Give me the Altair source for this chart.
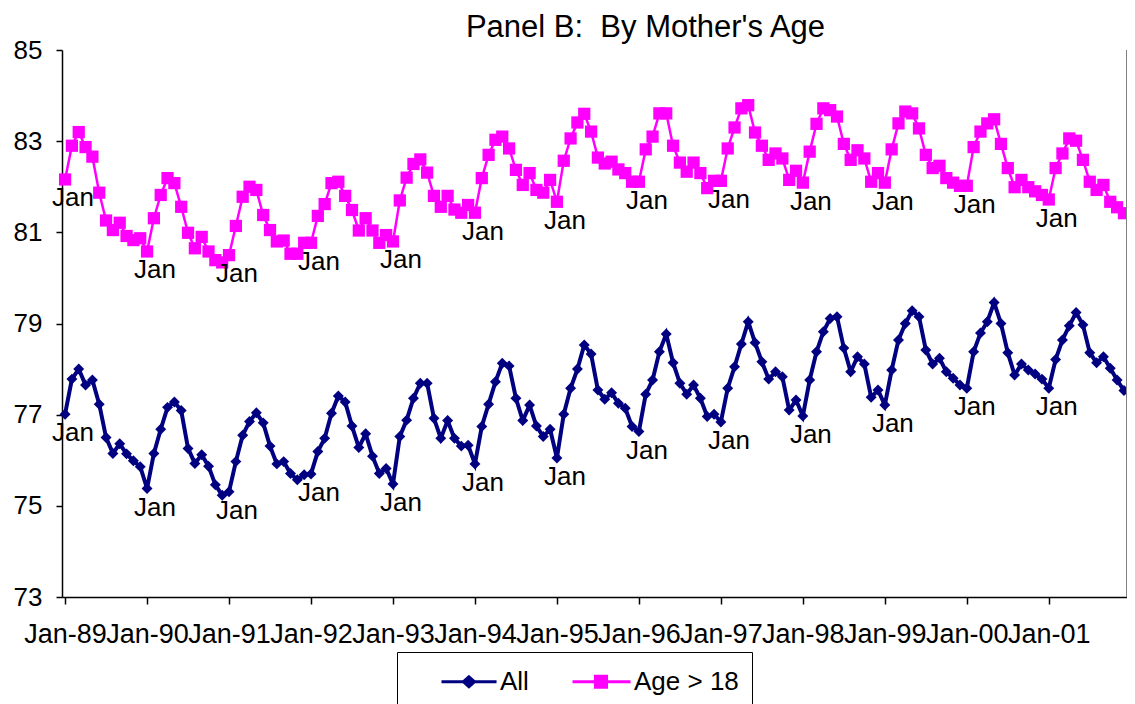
import altair as alt
import pandas as pd

# ---- data (monthly, Jan-89 .. Dec-01) ----
all_values = [
    77.01, 77.78, 78.00, 77.65, 77.76, 77.23, 76.50, 76.15, 76.36, 76.14, 75.99, 75.86,
    75.38, 76.15, 76.68, 77.16, 77.28, 77.09, 76.26, 75.93, 76.12, 75.87, 75.46, 75.23,
    75.31, 75.97, 76.55, 76.85, 77.04, 76.82, 76.31, 75.92, 75.97, 75.71, 75.57, 75.68,
    75.70, 76.19, 76.48, 77.03, 77.41, 77.28, 76.75, 76.28, 76.58, 76.09, 75.71, 75.82,
    75.48, 76.52, 76.88, 77.36, 77.69, 77.69, 76.92, 76.48, 76.87, 76.48, 76.31, 76.33,
    75.92, 76.74, 77.23, 77.72, 78.13, 78.07, 77.36, 76.87, 77.21, 76.75, 76.52, 76.68,
    76.05, 77.01, 77.58, 78.00, 78.53, 78.33, 77.54, 77.34, 77.48, 77.25, 77.14, 76.74,
    76.63, 77.45, 77.76, 78.38, 78.77, 78.14, 77.69, 77.45, 77.65, 77.36, 76.96, 77.01,
    76.84, 77.58, 78.05, 78.55, 79.04, 78.58, 78.16, 77.78, 77.94, 77.83, 77.10, 77.32,
    76.97, 77.76, 78.38, 78.82, 79.11, 79.15, 78.46, 77.94, 78.27, 78.11, 77.38, 77.54,
    77.21, 77.98, 78.64, 79.00, 79.28, 79.15, 78.42, 78.11, 78.24, 77.94, 77.80, 77.65,
    77.58, 78.38, 78.79, 79.04, 79.46, 79.00, 78.36, 77.87, 78.11, 77.98, 77.89, 77.78,
    77.58, 78.21, 78.64, 78.95, 79.24, 78.97, 78.36, 78.14, 78.27, 78.02, 77.76, 77.53,
]
age_values = [
    82.16, 82.90, 83.20, 82.87, 82.66, 81.87, 81.26, 81.05, 81.21, 80.92, 80.83, 80.87,
    80.58, 81.31, 81.82, 82.19, 82.08, 81.56, 80.99, 80.65, 80.90, 80.58, 80.39, 80.34,
    80.50, 81.14, 81.78, 82.00, 81.93, 81.38, 81.05, 80.80, 80.82, 80.53, 80.53, 80.77,
    80.77, 81.36, 81.62, 82.08, 82.11, 81.80, 81.49, 81.04, 81.31, 81.04, 80.77, 80.94,
    80.80, 81.70, 82.20, 82.50, 82.60, 82.31, 81.80, 81.56, 81.80, 81.50, 81.43, 81.60,
    81.43, 82.19, 82.70, 83.03, 83.10, 82.84, 82.37, 82.04, 82.30, 81.93, 81.87, 82.15,
    81.67, 82.57, 83.06, 83.41, 83.60, 83.21, 82.64, 82.51, 82.55, 82.38, 82.30, 82.11,
    82.11, 82.82, 83.10, 83.61, 83.61, 82.90, 82.53, 82.33, 82.53, 82.30, 81.97, 82.13,
    82.13, 82.84, 83.30, 83.72, 83.79, 83.19, 82.90, 82.59, 82.73, 82.62, 82.15, 82.35,
    82.09, 82.77, 83.38, 83.72, 83.68, 83.54, 82.94, 82.59, 82.80, 82.62, 82.11, 82.30,
    82.09, 82.82, 83.39, 83.65, 83.61, 83.28, 82.70, 82.41, 82.46, 82.19, 82.09, 82.02,
    82.02, 82.87, 83.21, 83.39, 83.48, 82.94, 82.41, 81.99, 82.15, 81.99, 81.90, 81.82,
    81.72, 82.41, 82.73, 83.06, 83.01, 82.59, 82.11, 81.93, 82.04, 81.67, 81.55, 81.42,
]
series_names = ["All", "Age > 18"]
series_colors = ["#000080", "#FF00FF"]
tick_labels = ["Jan-89", "Jan-90", "Jan-91", "Jan-92", "Jan-93", "Jan-94", "Jan-95",
               "Jan-96", "Jan-97", "Jan-98", "Jan-99", "Jan-00", "Jan-01"]
y_ticks = [73, 75, 77, 79, 81, 83, 85]

n = len(all_values)
df = pd.DataFrame({
    "m": list(range(n)) * 2,
    "series": [series_names[0]] * n + [series_names[1]] * n,
    "value": all_values + age_values,
})

FONT = "Liberation Sans"
tick_pos = [12 * i for i in range(len(tick_labels))]
label_expr = "[" + ",".join("'%s'" % t for t in tick_labels) + "][round(datum.value/12)]"

x = alt.X("m:Q",
          scale=alt.Scale(domain=[-0.45, n - 0.55], nice=False, zero=False),
          axis=alt.Axis(values=tick_pos, labelExpr=label_expr, title=None, grid=False,
                        labelFontSize=27, labelFont=FONT, labelColor="black",
                        tickSize=7, labelPadding=17, labelOverlap=False,
                        labelFlush=False))
y = alt.Y("value:Q",
          scale=alt.Scale(domain=[73, 85], nice=False, zero=False),
          axis=alt.Axis(values=y_ticks, title=None, grid=False, labelFontSize=26,
                        labelFont=FONT, labelColor="black", tickSize=6,
                        labelPadding=14))

base = alt.Chart(df)
f_all = "datum.series == 'All'"
f_age = "datum.series == 'Age > 18'"

line_all = base.transform_filter(f_all).mark_line(color=series_colors[0], strokeWidth=4).encode(x=x, y=y)
pts_all = base.transform_filter(f_all).mark_point(shape="diamond", filled=True, size=120,
                                                   color=series_colors[0], opacity=1).encode(x=x, y=y)
line_age = base.transform_filter(f_age).mark_line(color=series_colors[1], strokeWidth=2.5).encode(x=x, y=y)
pts_age = base.transform_filter(f_age).mark_point(shape="square", filled=True, size=150,
                                                   color=series_colors[1], opacity=1).encode(x=x, y=y)
jan_text = base.transform_filter("datum.m % 12 == 0").mark_text(
    text="Jan", dx=8, dy=19, fontSize=26, font=FONT, color="black", baseline="middle"
).encode(x=x, y=y)

# legend (line + marker symbols)
leg_paths = [
    "M1,0L4.67,0M2.83,-0.33L3.2,0L2.83,0.33L2.46,0Z",
    "M0.8,0L4.67,0M2.33,-0.36L3.07,-0.36L3.07,0.36L2.33,0.36Z",
]
leg = alt.Legend(orient="none", legendX=335, legendY=602, direction="horizontal",
                 title=None, labelFont=FONT, labelFontSize=26, labelColor="black",
                 symbolSize=900, symbolStrokeWidth=3, symbolOpacity=1, padding=13,
                 strokeColor="black", fillColor="white", labelOffset=57,
                 columnPadding=15)
legend_layer = base.transform_filter("false").mark_point(filled=True, strokeWidth=3, opacity=1).encode(
    x=x, y=y,
    fill=alt.Fill("series:N", scale=alt.Scale(domain=series_names, range=series_colors), legend=leg),
    stroke=alt.Stroke("series:N", scale=alt.Scale(domain=series_names, range=series_colors), legend=leg),
    shape=alt.Shape("series:N", scale=alt.Scale(domain=series_names, range=leg_paths), legend=leg),
)

border = alt.Chart(pd.DataFrame({"m": [n - 0.55]})).mark_rule(color="#808080", strokeWidth=2).encode(x=x)

chart = alt.layer(line_all, pts_all, line_age, pts_age, jan_text, legend_layer, border).properties(
    width=1065, height=547,
    padding={"left": 54, "top": 42, "right": 0, "bottom": 107},
    autosize=alt.AutoSizeParams(type="none"),
    title=alt.TitleParams("Panel B:\u00a0 By Mother's Age", fontSize=31, font=FONT,
                          fontWeight="normal", color="black", anchor="middle",
                          dx=51, offset=-7, frame="group"),
).configure_view(stroke=None).configure_axis(
    domainColor="black", domainWidth=1.5, tickColor="black", tickWidth=1.5
)

chart.save("out.html", embed_options={"renderer": "svg", "actions": False})
